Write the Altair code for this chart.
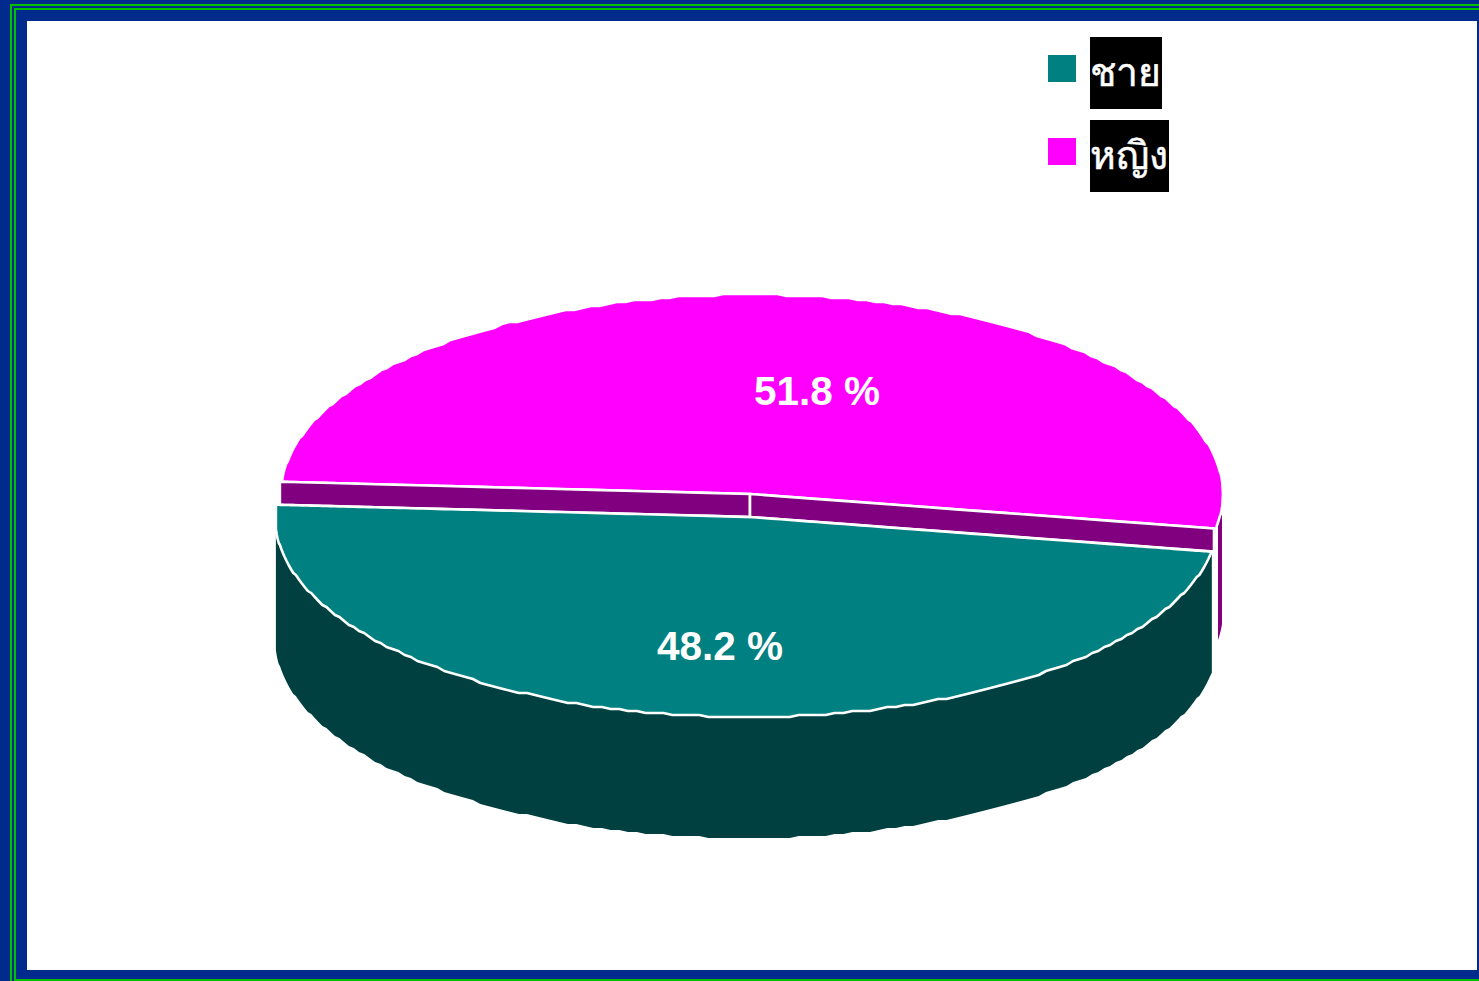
import numpy as np
import pandas as pd
import altair as alt

# Survey shares by gender
categories = ["ชาย", "หญิง"]
shares = [48.2, 51.8]
share_labels = ["48.2 %", "51.8 %"]

# Pixel-based drawing space
W, H = 1479, 981
X = alt.Scale(domain=[0, W], nice=False, zero=False)
Y = alt.Scale(domain=[H, 0], nice=False, zero=False)

TEAL, MAGENTA, PURPLE, DARK_TEAL = "#008080", "#FF00FF", "#800080", "#004040"
NAVY, GREEN = "#002B8C", "#00C000"

# Pie geometry: tilted ellipses, the female slice pulled back from the male one
RX_M, RY_M, DEPTH = 472, 200, 121
CX_M, CY_M = 747, 517
RX_F, RY_F = 471, 199.5
CX_F, CY_F = 752, 494
START = np.radians(10)
split = START + np.radians(shares[0] / 100 * 360)
STEP_DEG, STEP_H = 1.1, 2.0  # coarse outline resolution of the pie drawing


def rim(cx, cy, rx, ry, angle):
    return cx + rx * np.cos(angle), cy + ry * np.sin(angle)


def area_layer(df, color, stroke=None, stroke_width=2.6):
    kw = dict(color=color, interpolate="linear")
    if stroke:
        kw.update(stroke=stroke, strokeWidth=stroke_width, strokeJoin="round")
    return alt.Chart(df).mark_area(**kw).encode(
        x=alt.X("x:Q", scale=X, axis=None),
        y=alt.Y("y:Q", scale=Y, axis=None),
        y2="y2:Q",
    )


def cut_line(x0, y0, x1, y1, x):
    return y0 + (y1 - y0) * (x - x0) / (x1 - x0)


def half_height(xs, cx, rx, ry):
    """Half height of an ellipse at xs, snapped to a coarse step away from the tips."""
    exact = ry * np.sqrt(np.clip(1 - ((xs - cx) / rx) ** 2, 0, 1))
    snapped = np.round(exact / STEP_H) * STEP_H
    snapped[0], snapped[-1] = exact[0], exact[-1]
    return snapped


def grid(x0, x1, cx, rx):
    """Stations along x, evenly spaced by angle so the tips stay round."""
    t0 = np.degrees(np.arccos(np.clip((x0 - cx) / rx, -1, 1)))
    t1 = np.degrees(np.arccos(np.clip((x1 - cx) / rx, -1, 1)))
    angles = np.arange(t1, t0, STEP_DEG)
    inner = cx + rx * np.cos(np.radians(angles))[::-1]
    inner = inner[(inner > x0 + 0.5) & (inner < x1 - 0.5)]
    return np.concatenate([[x0], inner, [x1]])


# Cut points on each ellipse
mr_x, mr_y = rim(CX_M, CY_M, RX_M, RY_M, START)
ml_x, ml_y = rim(CX_M, CY_M, RX_M, RY_M, split)
fr_x, fr_y = rim(CX_F, CY_F, RX_F, RY_F, START)
fl_x, fl_y = rim(CX_F, CY_F, RX_F, RY_F, split)
HUB_M, HUB_F = 750, 750

# Male slice: front half of its ellipse beneath the two cut lines
xs_m = grid(ml_x, mr_x, CX_M, RX_M)
front_m = CY_M + half_height(xs_m, CX_M, RX_M, RY_M)
cut_m = np.where(
    xs_m < HUB_M,
    cut_line(ml_x, ml_y, HUB_M, CY_M, xs_m),
    cut_line(HUB_M, CY_M, mr_x, mr_y, xs_m),
)
male_top = pd.DataFrame({"x": xs_m, "y": cut_m, "y2": front_m})
male_wall = pd.DataFrame({"x": xs_m, "y": front_m, "y2": front_m + DEPTH})

# Female slice: back half of its ellipse above the two cut lines
xs_f = grid(fl_x, CX_F + RX_F, CX_F, RX_F)
half_f = half_height(xs_f, CX_F, RX_F, RY_F)
cut_f = np.where(
    xs_f < HUB_F,
    cut_line(fl_x, fl_y, HUB_F, CY_F, xs_f),
    cut_line(HUB_F, CY_F, fr_x, fr_y, xs_f),
)
female_top = pd.DataFrame(
    {"x": xs_f, "y": CY_F - half_f, "y2": np.minimum(cut_f, CY_F + half_f)}
)

# Sliver of the female outer wall showing past the male slice
xs_s = np.linspace(1218, CX_F + RX_F - 1, 12)
half_s = RY_F * np.sqrt(np.clip(1 - ((xs_s - CX_F) / RX_F) ** 2, 0, 1))
female_sliver = pd.DataFrame(
    {"x": xs_s, "y": CY_F + half_s, "y2": CY_F + half_s + DEPTH - 4}
)

# Cut faces of the female slice
BAND = 23
xs_l = np.linspace(fl_x - 2, HUB_F, 10)
xs_r = np.linspace(HUB_F, 1214, 10)
line_l = cut_line(fl_x, fl_y, HUB_F, CY_F, xs_l)
line_r = cut_line(HUB_F, CY_F, fr_x, fr_y, xs_r)
band_left = pd.DataFrame({"x": xs_l, "y": line_l, "y2": line_l + BAND})
band_right = pd.DataFrame({"x": xs_r, "y": line_r, "y2": line_r + BAND})

# Frame: navy ground, two green pinstripes, white chart area
frame = pd.DataFrame(
    [
        (0, W, 0, H, NAVY),
        (10, 12, 4, H, GREEN),
        (10, W, 4, 6, GREEN),
        (14, 16, 8, H, GREEN),
        (14, W, 8, 10, GREEN),
        (14, W, 979, H, GREEN),
        (27, 1477, 21, 970, "#FFFFFF"),
    ],
    columns=["x", "x2", "y", "y2", "fill"],
)
frame_layer = alt.Chart(frame).mark_rect().encode(
    x=alt.X("x:Q", scale=X, axis=None),
    x2="x2:Q",
    y=alt.Y("y:Q", scale=Y, axis=None),
    y2="y2:Q",
    color=alt.Color("fill:N", scale=None),
    order=alt.Order("index:Q"),
).transform_window(index="row_number()")

# Legend built from the category list
legend = pd.DataFrame(
    {
        "label": categories,
        "swatch": [TEAL, MAGENTA],
        "row": [0, 1],
        "box_x2": [1162, 1169],
    }
)
legend = legend.assign(
    y=37 + legend["row"] * 83,
    y2=109 + legend["row"] * 83,
    sy=55 + legend["row"] * 83,
    sy2=82 + legend["row"] * 83,
    ty=74 + legend["row"] * 83,
    x=1090,
    sx=1048,
    sx2=1076,
    tx=1090,
)
legend_boxes = alt.Chart(legend).mark_rect(color="black").encode(
    x=alt.X("x:Q", scale=X, axis=None), x2="box_x2:Q",
    y=alt.Y("y:Q", scale=Y, axis=None), y2="y2:Q",
)
legend_swatches = alt.Chart(legend).mark_rect().encode(
    x=alt.X("sx:Q", scale=X, axis=None), x2="sx2:Q",
    y=alt.Y("sy:Q", scale=Y, axis=None), y2="sy2:Q",
    color=alt.Color("swatch:N", scale=None),
)
legend_text = alt.Chart(legend).mark_text(
    align="left", baseline="middle", color="white", fontSize=39,
    stroke="white", strokeWidth=0.5, font="Noto Sans, DejaVu Sans",
).encode(
    x=alt.X("tx:Q", scale=X, axis=None),
    y=alt.Y("ty:Q", scale=Y, axis=None),
    text="label:N",
)

# Percentage labels
value_labels = pd.DataFrame({"text": share_labels, "x": [720, 817], "y": [660, 405]})
value_text = alt.Chart(value_labels).mark_text(
    align="center", baseline="alphabetic", color="white", fontSize=40.5,
    fontWeight="bold", font="Liberation Sans",
).encode(
    x=alt.X("x:Q", scale=X, axis=None),
    y=alt.Y("y:Q", scale=Y, axis=None),
    text="text:N",
)

chart = alt.layer(
    frame_layer,
    area_layer(female_sliver, PURPLE),
    area_layer(female_top, MAGENTA, "white"),
    area_layer(band_left, PURPLE, "white"),
    area_layer(band_right, PURPLE, "white"),
    area_layer(male_wall, DARK_TEAL),
    area_layer(male_top, TEAL, "white"),
    value_text,
    legend_boxes,
    legend_swatches,
    legend_text,
).properties(width=W, height=H, padding=0, autosize="none").configure_view(stroke=None)

chart.save("out.html", embed_options={"renderer": "svg", "actions": False})
